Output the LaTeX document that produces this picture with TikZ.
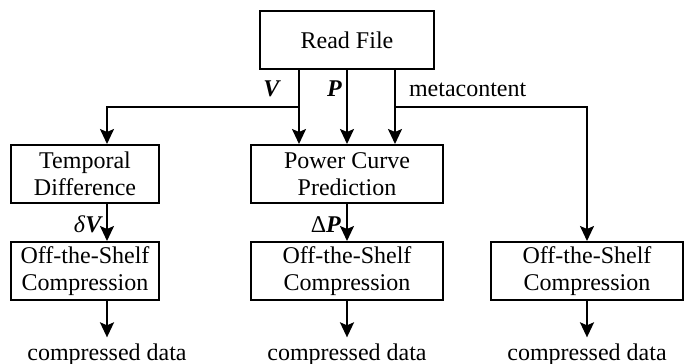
\documentclass[tikz,border=0pt]{standalone}
\usepackage{fontspec}
\setmainfont{Liberation Serif}
\usetikzlibrary{arrows.meta}
\tikzset{
  blk/.style={draw, line width=1pt, minimum height=29pt, inner sep=1pt,
    align=center, font=\fontsize{12}{13.4}\selectfont},
  outtxt/.style={inner sep=0pt, outer ysep=3pt, anchor=base,
    font=\fontsize{12}{13.4}\selectfont},
  lbl/.style={inner sep=0pt, font=\fontsize{12}{13.4}\selectfont}
}
\newcommand{\bvec}[1]{\textbf{\textit{#1}}}
\begin{document}
\begin{tikzpicture}[x=0.5pt, y=-0.5pt, line width=1pt,
  >={Stealth[length=7.5pt, width=7pt, inset=1.5pt]}]
\useasboundingbox (0,0) rectangle (686,364);
% boxes
\node[blk, minimum width=87pt] (read) at (347,40) {Read File};
\node[blk, minimum width=74pt] (tdiff) at (85,174) {Temporal\\Difference};
\node[blk, minimum width=96pt] (pcp) at (347,174) {Power Curve\\Prediction};
\node[blk, minimum width=74pt] (ots1) at (85,271) {Off-the-Shelf\\Compression};
\node[blk, minimum width=96pt] (ots2) at (347,271) {Off-the-Shelf\\Compression};
\node[blk, minimum width=96pt] (ots3) at (587,271) {Off-the-Shelf\\Compression};
\node[outtxt] (out1) at (107,360) {compressed data};
\node[outtxt] (out2) at (347,360) {compressed data};
\node[outtxt] (out3) at (587,360) {compressed data};
\coordinate (vsplit) at (299,107);
\coordinate (msplit) at (395,107);

% read file outputs
\draw[->]([xshift=-24pt]read.south)--([xshift=-24pt]pcp.north);
\draw[->](read)--(pcp);
\draw[->]([xshift=24pt]read.south)--([xshift=24pt]pcp.north);
\draw[->](vsplit)-|([xshift=11pt]tdiff.north);
\draw[->](msplit)-|(ots3.north);
\node[lbl, anchor=base east] (vlbl) at (282,97) {\bvec{V}};
\node[lbl, anchor=base east] (plbl) at (343,97) {\bvec{P}};
\node[lbl, anchor=base west] (mlbl) at (408,97) {metacontent};

% residuals and compression
\draw[->]([xshift=11pt]tdiff.south)--([xshift=11pt]ots1.north);
\draw[->](pcp)--(ots2);
\node[lbl, anchor=base east] (dv) at (104,232) {\textit{δ}\bvec{V}};
\node[lbl, anchor=base east] (dp) at (342,232) {Δ\bvec{P}};
\draw[->]([xshift=11pt]ots1.south)--(out1);
\draw[->](ots2)--(out2);
\draw[->](ots3)--(out3);
\end{tikzpicture}
\end{document}
